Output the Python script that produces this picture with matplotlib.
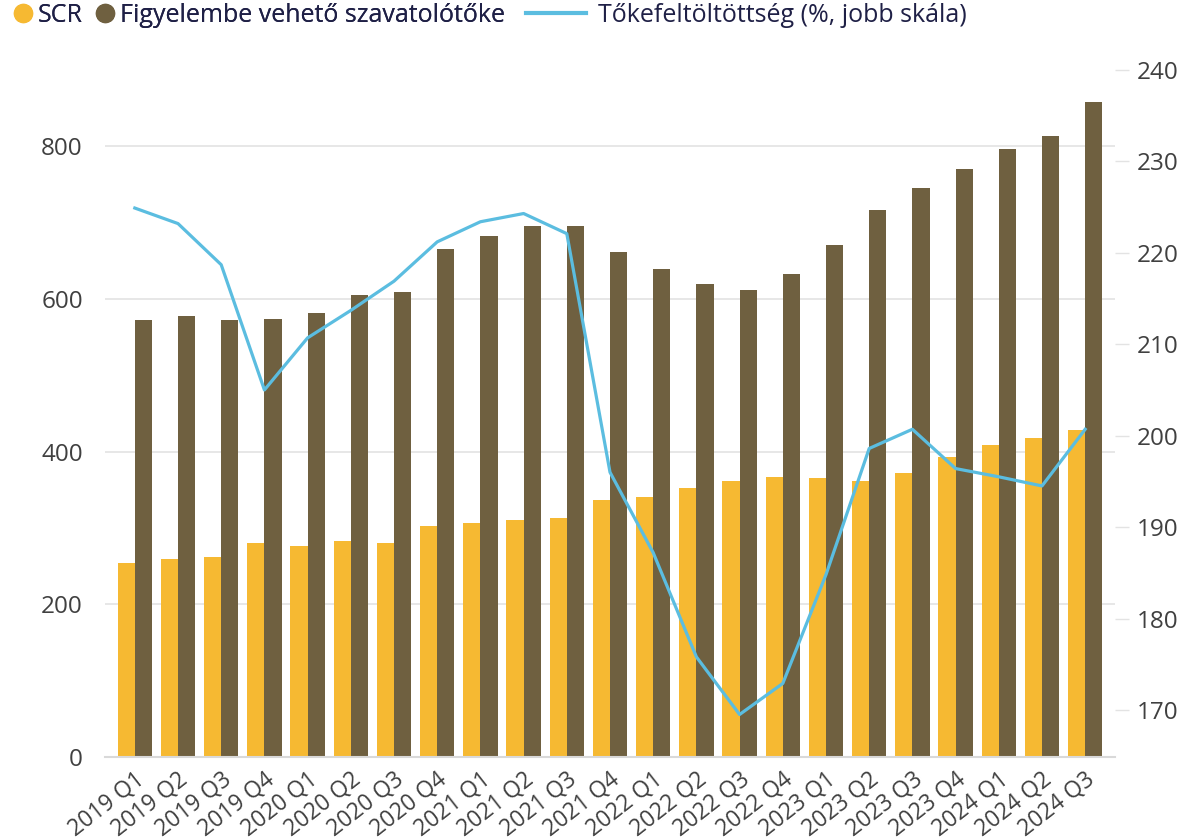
import numpy as np
import matplotlib.pyplot as plt
import matplotlib.transforms as mtransforms
from matplotlib.lines import Line2D

plt.rcParams["font.family"] = ["Open Sans", "DejaVu Sans"]

quarters = [
    "2019 Q1", "2019 Q2", "2019 Q3", "2019 Q4",
    "2020 Q1", "2020 Q2", "2020 Q3", "2020 Q4",
    "2021 Q1", "2021 Q2", "2021 Q3", "2021 Q4",
    "2022 Q1", "2022 Q2", "2022 Q3", "2022 Q4",
    "2023 Q1", "2023 Q2", "2023 Q3", "2023 Q4",
    "2024 Q1", "2024 Q2", "2024 Q3",
]
scr = [254, 260, 262, 281, 277, 283, 281, 302, 307, 311, 313, 337,
       341, 353, 362, 367, 365, 362, 372, 393, 409, 418, 429]
own_funds = [572, 578, 573, 574, 582, 605, 609, 665, 683, 696, 695, 661,
             639, 619, 612, 633, 671, 716, 745, 770, 797, 813, 858]
solvency = [224.9, 223.2, 218.7, 205.0, 210.7, 213.7, 216.9, 221.2, 223.4, 224.3,
            222.1, 196.0, 187.2, 175.8, 169.5, 172.9, 184.8, 198.6, 200.7, 196.4,
            195.5, 194.5, 200.7]

c_scr = "#F6B932"
c_own = "#6F6040"
c_line = "#5BBDE0"
c_text = "#404040"
c_legend = "#1F2046"
c_grid = "#E3E3E3"

fig = plt.figure(figsize=(11.88, 8.4), dpi=100)
ax = fig.add_axes([105 / 1188, 83 / 840, 1010 / 1188, 687 / 840])
ax2 = ax.twinx()

x = np.arange(len(quarters))
w = 0.4
ax.bar(x - w / 2, scr, width=w, color=c_scr, zorder=2)
ax.bar(x + w / 2, own_funds, width=w, color=c_own, zorder=2)
ax2.plot(x, solvency, color=c_line, linewidth=2.3, zorder=3)

ax.set_xlim(-0.69, len(quarters) - 0.31)
ax.set_ylim(0, 900)
ax2.set_ylim(164.85, 240)

ax.set_yticks([0, 200, 400, 600, 800])
ax.grid(axis="y", color=c_grid, linewidth=1.2, zorder=0)
ax.set_axisbelow(True)
ax2.set_yticks(range(170, 241, 10))

ax.set_xticks(x)
ax.set_xticklabels(quarters, rotation=38, ha="right", rotation_mode="anchor")
# nudge the slanted labels a little left of the category centre
shift = mtransforms.ScaledTranslation(-10 / 100, 0, fig.dpi_scale_trans)
for lbl in ax.get_xticklabels():
    lbl.set_transform(lbl.get_transform() + shift)

for a in (ax, ax2):
    for s in a.spines.values():
        s.set_visible(False)
ax.spines["bottom"].set_visible(True)
ax.spines["bottom"].set_color("#D9D9D9")
ax.spines["bottom"].set_linewidth(1.5)

ax.tick_params(axis="y", length=0, pad=16, labelsize=17.5, labelcolor=c_text)
ax.tick_params(axis="x", length=0, pad=8, labelsize=16.5, labelcolor=c_text)
ax2.tick_params(axis="y", length=10, width=1, color=c_grid, pad=6,
                labelsize=17.5, labelcolor=c_text)

# legend: circles for the bars, a longer line for the ratio
bar_handles = [
    Line2D([], [], marker="o", linestyle="none", markersize=13,
           markerfacecolor=c_scr, markeredgecolor=c_scr),
    Line2D([], [], marker="o", linestyle="none", markersize=13,
           markerfacecolor=c_own, markeredgecolor=c_own),
]
leg1 = fig.legend(bar_handles, ["SCR", "Figyelembe vehető szavatolótőke"],
                  loc="upper left", bbox_to_anchor=(10 / 1188, 1.0),
                  ncol=2, frameon=False, fontsize=18, labelcolor=c_legend,
                  handletextpad=0.2, columnspacing=0.5, handlelength=0.8,
                  borderpad=0.1, borderaxespad=0)
fig.legend([Line2D([], [], color=c_line, linewidth=3)],
           ["Tőkefeltöltöttség (%, jobb skála)"],
           loc="upper left", bbox_to_anchor=(523 / 1188, 1.0),
           frameon=False, fontsize=18, labelcolor=c_legend,
           handletextpad=0.5, handlelength=2.4,
           borderpad=0.1, borderaxespad=0)
fig.add_artist(leg1)

fig.savefig("out.png", dpi=100)
